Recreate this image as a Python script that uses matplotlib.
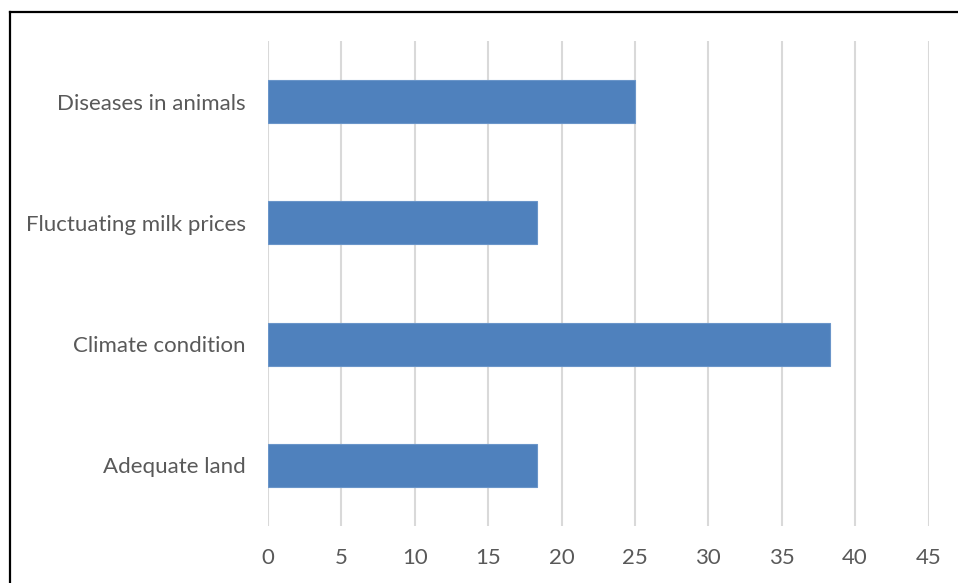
import matplotlib
matplotlib.use('Agg')
import matplotlib.pyplot as plt
from matplotlib.lines import Line2D

categories = ['Adequate land', 'Climate condition', 'Fluctuating milk prices', 'Diseases in animals']
values = [18.3, 38.3, 18.3, 25.0]
xticks = [0, 5, 10, 15, 20, 25, 30, 35, 40, 45]

plt.rcParams['font.family'] = ['Lato', 'DejaVu Sans']

W, H = 958, 583
fig = plt.figure(figsize=(W / 100, H / 100), dpi=100)
ax = fig.add_axes([268 / W, 1 - 526 / H, (928.5 - 268) / W, (526 - 41) / H])

y = list(range(len(categories)))
ax.barh(y, values, height=0.355, color='#4F81BD', edgecolor='#6A95C9', linewidth=0.8, zorder=3)

ax.set_xlim(0, 45)
ax.set_ylim(-0.5, len(categories) - 0.5)
ax.set_xticks(xticks)
ax.set_xticklabels([str(t) for t in xticks])
ax.set_yticks(y)
ax.set_yticklabels(categories)
ax.tick_params(axis='both', length=0, labelsize=16, colors='#595959')
ax.tick_params(axis='x', pad=16)
ax.tick_params(axis='y', pad=16)
ax.grid(axis='x', color='#D9D9D9', linewidth=1.5, zorder=0)
for s in ax.spines.values():
    s.set_visible(False)

# frame around the chart (right and bottom edges are cut off in the source)
fig.add_artist(Line2D([9.5 / W, 1.0], [1 - 11.5 / H, 1 - 11.5 / H], color='black', linewidth=1.6, transform=fig.transFigure))
fig.add_artist(Line2D([9.5 / W, 9.5 / W], [0.0, 1 - 11.5 / H], color='black', linewidth=1.6, transform=fig.transFigure))

fig.savefig('out.png', dpi=100)
